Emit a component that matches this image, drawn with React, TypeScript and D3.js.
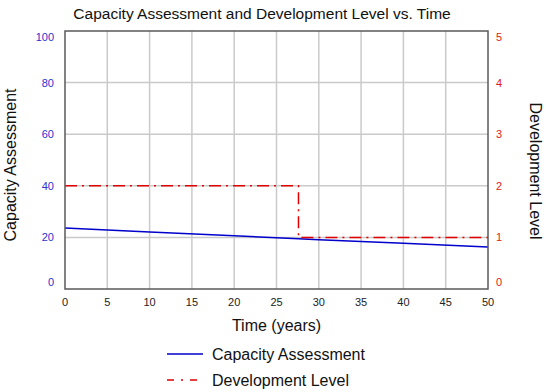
import React, { useRef, useEffect } from "react";
import * as d3 from "d3";

const timePoints = [0, 10, 20, 27.6, 30, 40, 50];
const capacityValues = [23.6, 22.1, 20.6, 19.5, 19.1, 17.7, 16.3];

const devTimes = [0, 27.6, 27.6, 50];
const devValues = [2, 2, 1, 1];

const xTicks = [0, 5, 10, 15, 20, 25, 30, 35, 40, 45, 50];
const leftTicks = [0, 20, 40, 60, 80, 100];
const rightTicks = [0, 1, 2, 3, 4, 5];

const App: React.FC = () => {
  const ref = useRef<SVGSVGElement | null>(null);

  useEffect(() => {
    document.body.style.margin = "0";
    if (!ref.current) return;
    const svg = d3.select(ref.current);
    svg.selectAll("*").remove();

    const width = 550;
    const height = 392;
    const left = 65;
    const right = 488;
    const top = 31;
    const bottom = 289;
    const font = "Arial, 'Liberation Sans', sans-serif";

    const x = d3.scaleLinear().domain([0, 50]).range([left, right]);
    const yL = d3.scaleLinear().domain([0, 100]).range([bottom, top]);
    const yR = d3.scaleLinear().domain([0, 5]).range([bottom, top]);
    const clampY = (v: number) => Math.max(top + 6, Math.min(bottom - 7, v));

    svg.attr("width", width).attr("height", height).style("display", "block");
    svg.append("rect").attr("width", width).attr("height", height).attr("fill", "#fff");

    // grid
    const grid = svg.append("g").attr("stroke", "#cacaca").attr("stroke-width", 1.5);
    xTicks.slice(1, -1).forEach((t) => {
      grid.append("line").attr("x1", x(t)).attr("x2", x(t)).attr("y1", top).attr("y2", bottom);
    });
    leftTicks.slice(1, -1).forEach((t) => {
      grid.append("line").attr("x1", left).attr("x2", right).attr("y1", yL(t)).attr("y2", yL(t));
    });

    // series
    const capData = timePoints.map((t, i) => [t, capacityValues[i]] as [number, number]);
    const devData = devTimes.map((t, i) => [t, devValues[i]] as [number, number]);

    svg
      .append("path")
      .datum(capData)
      .attr("fill", "none")
      .attr("stroke", "#0000cc")
      .attr("stroke-width", 1.5)
      .attr("d", d3.line<[number, number]>().x((d) => x(d[0])).y((d) => yL(d[1])));

    svg
      .append("path")
      .datum(devData)
      .attr("fill", "none")
      .attr("stroke", "#e00000")
      .attr("stroke-width", 1.5)
      .attr("stroke-dasharray", "12,5,2,5")
      .attr("d", d3.line<[number, number]>().x((d) => x(d[0])).y((d) => yR(d[1])));

    // frame
    svg
      .append("rect")
      .attr("x", left)
      .attr("y", top)
      .attr("width", right - left)
      .attr("height", bottom - top)
      .attr("fill", "none")
      .attr("stroke", "#5a5a5a")
      .attr("stroke-width", 1.5);

    // tick labels
    svg
      .append("g")
      .selectAll("text")
      .data(xTicks)
      .enter()
      .append("text")
      .attr("x", (d) => x(d))
      .attr("y", 306)
      .attr("text-anchor", "middle")
      .attr("font-family", font)
      .attr("font-size", 11)
      .attr("fill", "#222")
      .text((d) => d);

    svg
      .append("g")
      .selectAll("text")
      .data(leftTicks)
      .enter()
      .append("text")
      .attr("x", 54)
      .attr("y", (d) => clampY(yL(d)) + 4)
      .attr("text-anchor", "end")
      .attr("font-family", font)
      .attr("font-size", 11)
      .attr("fill", "#3030cc")
      .text((d) => d);

    svg
      .append("g")
      .selectAll("text")
      .data(rightTicks)
      .enter()
      .append("text")
      .attr("x", 496)
      .attr("y", (d) => clampY(yR(d)) + 4)
      .attr("text-anchor", "start")
      .attr("font-family", font)
      .attr("font-size", 11)
      .attr("fill", "#e02020")
      .text((d) => d);

    // titles
    svg
      .append("text")
      .attr("x", 262)
      .attr("y", 19)
      .attr("text-anchor", "middle")
      .attr("font-family", font)
      .attr("font-size", 15.5)
      .attr("fill", "#111")
      .text("Capacity Assessment and Development Level vs. Time");

    svg
      .append("text")
      .attr("x", (left + right) / 2)
      .attr("y", 331)
      .attr("text-anchor", "middle")
      .attr("font-family", font)
      .attr("font-size", 16)
      .attr("fill", "#111")
      .text("Time (years)");

    svg
      .append("text")
      .attr("transform", `translate(16,165) rotate(-90)`)
      .attr("text-anchor", "middle")
      .attr("font-family", font)
      .attr("font-size", 16)
      .attr("fill", "#111")
      .text("Capacity Assessment");

    svg
      .append("text")
      .attr("transform", `translate(530,171) rotate(90)`)
      .attr("text-anchor", "middle")
      .attr("font-family", font)
      .attr("font-size", 16)
      .attr("fill", "#111")
      .text("Development Level");

    // legend
    const legend = [
      { label: "Capacity Assessment", color: "#0000cc", dash: null as string | null },
      { label: "Development Level", color: "#e00000", dash: "7,7,2,7" },
    ];
    legend.forEach((l, i) => {
      const ly = 354 + i * 26;
      const ln = svg
        .append("line")
        .attr("x1", 167)
        .attr("x2", 203)
        .attr("y1", ly)
        .attr("y2", ly)
        .attr("stroke", l.color)
        .attr("stroke-width", 1.5);
      if (l.dash) ln.attr("stroke-dasharray", l.dash);
      svg
        .append("text")
        .attr("x", 212)
        .attr("y", ly + 6)
        .attr("font-family", font)
        .attr("font-size", 16)
        .attr("fill", "#111")
        .text(l.label);
    });
  }, []);

  return <svg ref={ref} />;
};

export default App;
